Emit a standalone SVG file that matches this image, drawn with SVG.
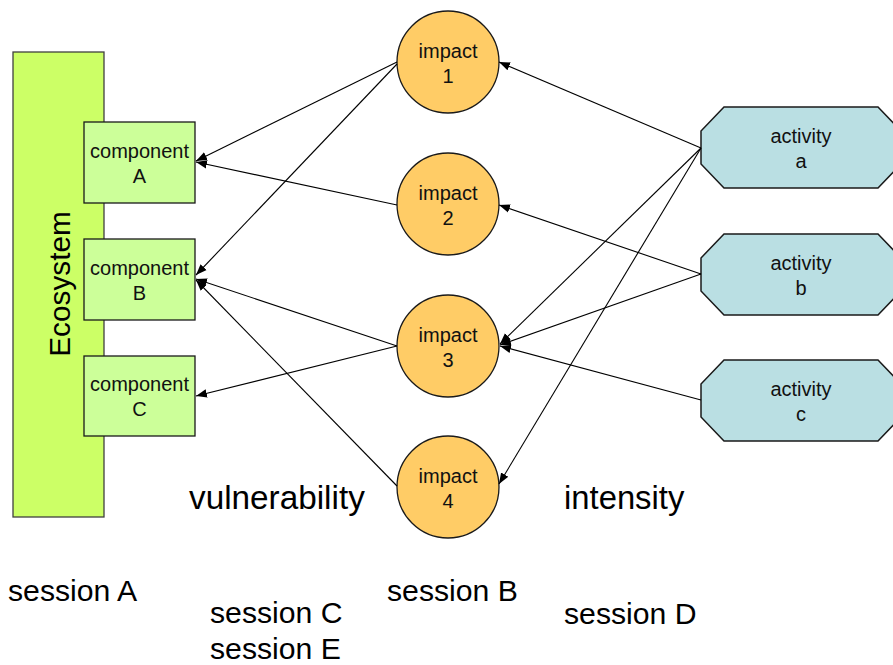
<svg xmlns="http://www.w3.org/2000/svg" width="893" height="665" viewBox="0 0 893 665">
  <defs>
    <marker id="arrow" markerWidth="12" markerHeight="10" refX="11" refY="5" orient="auto" markerUnits="userSpaceOnUse">
      <path d="M0,0.8 L11,5 L0,9.2 z" fill="#000"/>
    </marker>
    <style>
      .eco { fill: #ccff66; stroke: #404040; stroke-width: 1.3; }
      .comp { fill: #ccff99; stroke: #1a1a1a; stroke-width: 1.3; }
      .imp { fill: #ffcc66; stroke: #1a1a1a; stroke-width: 1.3; }
      .act { fill: #badfe3; stroke: #1a1a1a; stroke-width: 1.5; }
      .lbl { font-family: "Liberation Sans", Arial, sans-serif; font-size: 20px; fill: #111; text-anchor: middle; }
      .big { font-family: "Liberation Sans", Arial, sans-serif; fill: #000; }
      .sess { font-family: "Liberation Sans", Arial, sans-serif; font-size: 30.2px; fill: #000; }
      .edge { stroke: #000; stroke-width: 1.1; fill: none; marker-end: url(#arrow); }
    </style>
  </defs>
  <rect width="893" height="665" fill="#fff"/>

  <!-- ecosystem column -->
  <g id="ecosystem">
    <rect class="eco" x="13" y="52" width="91" height="465"/>
    <text class="big" x="70" y="284" font-size="29.8" text-anchor="middle" transform="rotate(-90 70 284)">Ecosystem</text>
  </g>

  <!-- components -->
  <g id="componentA">
    <rect class="comp" x="84" y="122" width="111" height="81"/>
    <text class="lbl" x="139.5" y="158">component</text>
    <text class="lbl" x="139.5" y="183">A</text>
  </g>
  <g id="componentB">
    <rect class="comp" x="84" y="239" width="111" height="81"/>
    <text class="lbl" x="139.5" y="275">component</text>
    <text class="lbl" x="139.5" y="300">B</text>
  </g>
  <g id="componentC">
    <rect class="comp" x="84" y="356" width="111" height="80"/>
    <text class="lbl" x="139.5" y="391">component</text>
    <text class="lbl" x="139.5" y="416">C</text>
  </g>

  <!-- impacts -->
  <g id="impact1">
    <circle class="imp" cx="448" cy="62" r="51"/>
    <text class="lbl" x="448" y="57.5">impact</text>
    <text class="lbl" x="448" y="82.5">1</text>
  </g>
  <g id="impact2">
    <circle class="imp" cx="448" cy="204" r="51"/>
    <text class="lbl" x="448" y="199.5">impact</text>
    <text class="lbl" x="448" y="224.5">2</text>
  </g>
  <g id="impact3">
    <circle class="imp" cx="448" cy="346" r="51"/>
    <text class="lbl" x="448" y="341.5">impact</text>
    <text class="lbl" x="448" y="366.5">3</text>
  </g>
  <g id="impact4">
    <circle class="imp" cx="448" cy="487" r="51"/>
    <text class="lbl" x="448" y="482.5">impact</text>
    <text class="lbl" x="448" y="507.5">4</text>
  </g>

  <!-- activities -->
  <g id="activityA">
    <polygon class="act" points="724,107 878,107 901,131 901,164 878,188 724,188 701,164 701,131"/>
    <text class="lbl" x="801" y="143">activity</text>
    <text class="lbl" x="801" y="168">a</text>
  </g>
  <g id="activityB">
    <polygon class="act" points="724,234 878,234 901,258 901,291 878,315 724,315 701,291 701,258"/>
    <text class="lbl" x="801" y="270">activity</text>
    <text class="lbl" x="801" y="295">b</text>
  </g>
  <g id="activityC">
    <polygon class="act" points="724,360 878,360 901,384 901,417 878,441 724,441 701,417 701,384"/>
    <text class="lbl" x="801" y="396">activity</text>
    <text class="lbl" x="801" y="421">c</text>
  </g>

  <!-- connectors -->
  <g id="connectors">
    <line class="edge" x1="397" y1="62" x2="196" y2="161"/>
    <line class="edge" x1="397" y1="64" x2="196" y2="275"/>
    <line class="edge" x1="397" y1="205" x2="196" y2="162"/>
    <line class="edge" x1="397" y1="346" x2="196" y2="279"/>
    <line class="edge" x1="397" y1="346" x2="196" y2="396"/>
    <line class="edge" x1="397" y1="486" x2="196" y2="280"/>
    <line class="edge" x1="701" y1="148" x2="499" y2="62"/>
    <line class="edge" x1="701" y1="148" x2="500" y2="344"/>
    <line class="edge" x1="701" y1="148" x2="499" y2="484"/>
    <line class="edge" x1="701" y1="274" x2="499" y2="205"/>
    <line class="edge" x1="701" y1="274" x2="500" y2="345"/>
    <line class="edge" x1="701" y1="400" x2="500" y2="346"/>
  </g>

  <!-- axis captions -->
  <text class="big" x="189" y="509" font-size="33.3">vulnerability</text>
  <text class="big" x="564" y="509" font-size="32.8">intensity</text>

  <!-- session labels -->
  <text class="sess" x="8" y="601">session A</text>
  <text class="sess" x="387" y="601">session B</text>
  <text class="sess" x="210" y="623">session C</text>
  <text class="sess" x="564" y="624">session D</text>
  <text class="sess" x="210" y="659">session E</text>
</svg>
